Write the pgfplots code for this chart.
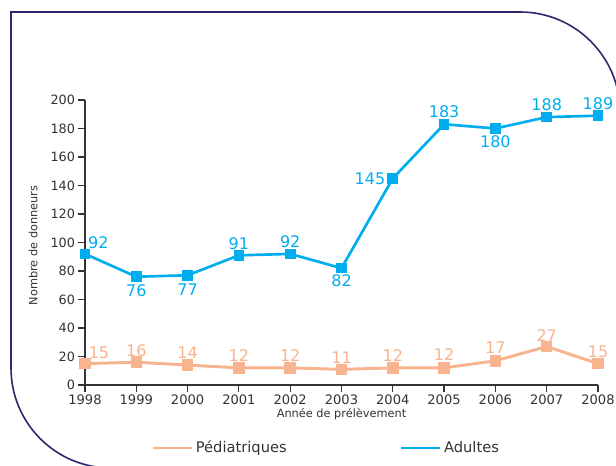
\documentclass[border=0pt]{standalone}
\usepackage{pgfplots}
\pgfplotsset{compat=1.18}
\usepackage{fontspec}
\setmainfont{DejaVu Sans}
\definecolor{blu}{HTML}{00AEEF}
\definecolor{ora}{HTML}{F8B48E}
\definecolor{framec}{HTML}{2B2A6B}
\definecolor{axc}{HTML}{333333}
\begin{document}
\begin{tikzpicture}[x=0.75pt,y=0.75pt]
\useasboundingbox (0,0) rectangle (616,465);
\begin{scope}
\clip (0,0) rectangle (616,465);
\draw[framec, line width=1.2pt] (111,-3) arc[start angle=270, end angle=180, radius=100] -- (11,453) -- (520,453) arc[start angle=90, end angle=0, radius=100] -- (620,-3);
\end{scope}
\begin{axis}[
  at={(63.75pt,60pt)}, anchor=origin,
  scale only axis, width=384.75pt, height=213.75pt,
  xmin=1998, xmax=2008, ymin=0, ymax=200,
  axis lines*=left,
  axis line style={axc, line width=1pt},
  xtick={1998,...,2008}, ytick={0,20,...,200},
  tick align=outside, major tick length=5pt,
  tick style={axc, line width=0.9pt},
  x tick label style={/pgf/number format/1000 sep=, font=\fontsize{9.8}{11}\selectfont, text=axc, yshift=1.5pt},
  y tick label style={font=\fontsize{9.6}{11}\selectfont, text=axc, xshift=1pt},
  /pgf/number format/assume math mode=true,
  xlabel={Année de prélèvement},
  xlabel style={font=\fontsize{8.5}{10}\selectfont, text=axc, at={(axis description cs:0.5,-0.102)}, anchor=center},
  ylabel={Nombre de donneurs},
  ylabel style={font=\fontsize{8.5}{10}\selectfont, text=axc, at={(axis description cs:-0.101,0.49)}, anchor=center},
  clip=false,
  legend columns=2,
  legend style={draw=none, fill=none, at={(axis description cs:0.471,-0.221)}, anchor=center,
    font=\fontsize{11}{13}\selectfont, text=axc,
    /tikz/every even column/.append style={column sep=83pt}},
  legend image code/.code={\draw[#1] (0pt,0pt) -- (29pt,0pt);},
]
\addplot[ora, line width=2.2pt, mark=square*, mark size=3.2pt, mark options={solid}] coordinates {
(1998,15) (1999,16) (2000,14) (2001,12) (2002,12) (2003,11) (2004,12) (2005,12) (2006,17) (2007,27) (2008,15)};
\addlegendentry{Pédiatriques}
\addplot[blu, line width=2pt, mark=square*, mark size=3pt, mark options={solid}] coordinates {
(1998,92) (1999,76) (2000,77) (2001,91) (2002,92) (2003,82) (2004,145) (2005,183) (2006,180) (2007,188) (2008,189)};
\addlegendentry{Adultes}
\begin{scope}[every node/.style={font=\fontsize{12}{13}\selectfont, inner sep=0pt, anchor=center}]
% Adults labels
\node[blu, xshift=10pt, yshift=8.6pt] at (axis cs:1998,92) {92};
\node[blu, yshift=-10.5pt] at (axis cs:1999,76) {76};
\node[blu, yshift=-10.5pt] at (axis cs:2000,77) {77};
\node[blu, yshift=8.8pt] at (axis cs:2001,91) {91};
\node[blu, yshift=8.8pt] at (axis cs:2002,92) {92};
\node[blu, yshift=-9.5pt] at (axis cs:2003,82) {82};
\node[blu, anchor=east, xshift=-5.5pt] at (axis cs:2004,145) {145};
\node[blu, yshift=9.5pt] at (axis cs:2005,183) {183};
\node[blu, yshift=-9.8pt] at (axis cs:2006,180) {180};
\node[blu, yshift=9.5pt] at (axis cs:2007,188) {188};
\node[blu, yshift=9.3pt] at (axis cs:2008,189) {189};
% Pediatric labels
\node[ora, xshift=10.5pt, yshift=8pt] at (axis cs:1998,15) {15};
\node[ora, yshift=9pt] at (axis cs:1999,16) {16};
\node[ora, yshift=9pt] at (axis cs:2000,14) {14};
\node[ora, yshift=9pt] at (axis cs:2001,12) {12};
\node[ora, yshift=9pt] at (axis cs:2002,12) {12};
\node[ora, yshift=9pt] at (axis cs:2003,11) {11};
\node[ora, yshift=9pt] at (axis cs:2004,12) {12};
\node[ora, yshift=10pt] at (axis cs:2005,12) {12};
\node[ora, yshift=9.5pt] at (axis cs:2006,17) {17};
\node[ora, yshift=8pt] at (axis cs:2007,27) {27};
\node[ora, yshift=8.8pt] at (axis cs:2008,15) {15};
\end{scope}
\end{axis}
\end{tikzpicture}
\end{document}
